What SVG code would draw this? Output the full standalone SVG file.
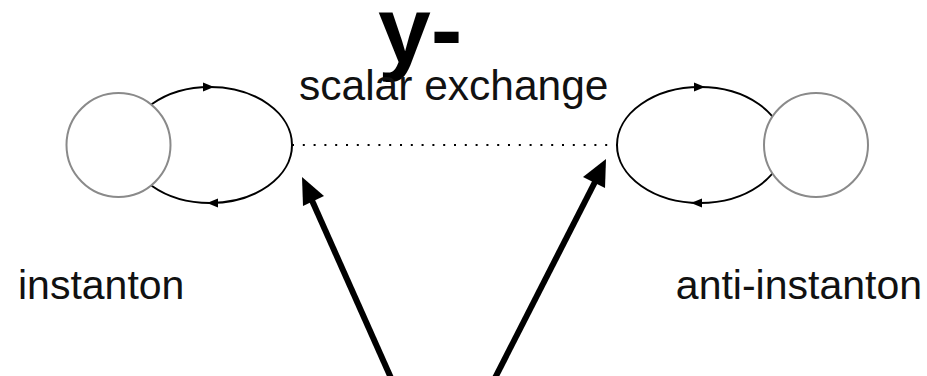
<svg xmlns="http://www.w3.org/2000/svg" width="927" height="376" viewBox="0 0 927 376">
<style>
.loop{fill:none;stroke:#000;stroke-width:2}
.blob{fill:#fff;stroke:#8a8a8a;stroke-width:2}
.head{fill:#000}
.lbl{font-family:"Liberation Sans",Arial,sans-serif;font-size:41px;fill:#111}
.big{font-family:"Liberation Sans",Arial,sans-serif;font-size:95px;font-weight:bold;fill:#000}
.thick{stroke:#000;stroke-width:6;fill:none}
</style>
<rect width="927" height="376" fill="#fff"/>
<g id="title"><text class="big" x="378" y="62">y-</text></g>
<g id="connectors">
<line x1="292" y1="145" x2="618" y2="145" stroke="#000" stroke-width="2" stroke-dasharray="2 8.8" />
<line class="thick" x1="391" y1="378" x2="310" y2="196"/>
<polygon class="head" points="302,177 324,196 303,206"/>
<line class="thick" x1="495" y1="378" x2="597" y2="178"/>
<polygon class="head" points="606,159 605,188 583,177"/>
</g>
<g id="instanton">
<ellipse class="loop" cx="210" cy="145" rx="82" ry="58"/>
<polygon class="head" points="214,87 203,82.5 203,91.5"/>
<polygon class="head" points="207,203 218,198.5 218,207.5"/>
<circle class="blob" cx="118.5" cy="145" r="52"/>
<text class="lbl" x="18" y="299">instanton</text>
</g>
<g id="anti-instanton">
<ellipse class="loop" cx="700" cy="145" rx="83" ry="58"/>
<polygon class="head" points="705,87 694,82.5 694,91.5"/>
<polygon class="head" points="691,203 702,198.5 702,207.5"/>
<circle class="blob" cx="816" cy="145" r="52"/>
<text class="lbl" x="922" y="299" text-anchor="end">anti-instanton</text>
</g>
<g id="scalar-exchange"><text class="lbl" x="299" y="100" style="font-size:42.5px">scalar exchange</text></g>
</svg>
